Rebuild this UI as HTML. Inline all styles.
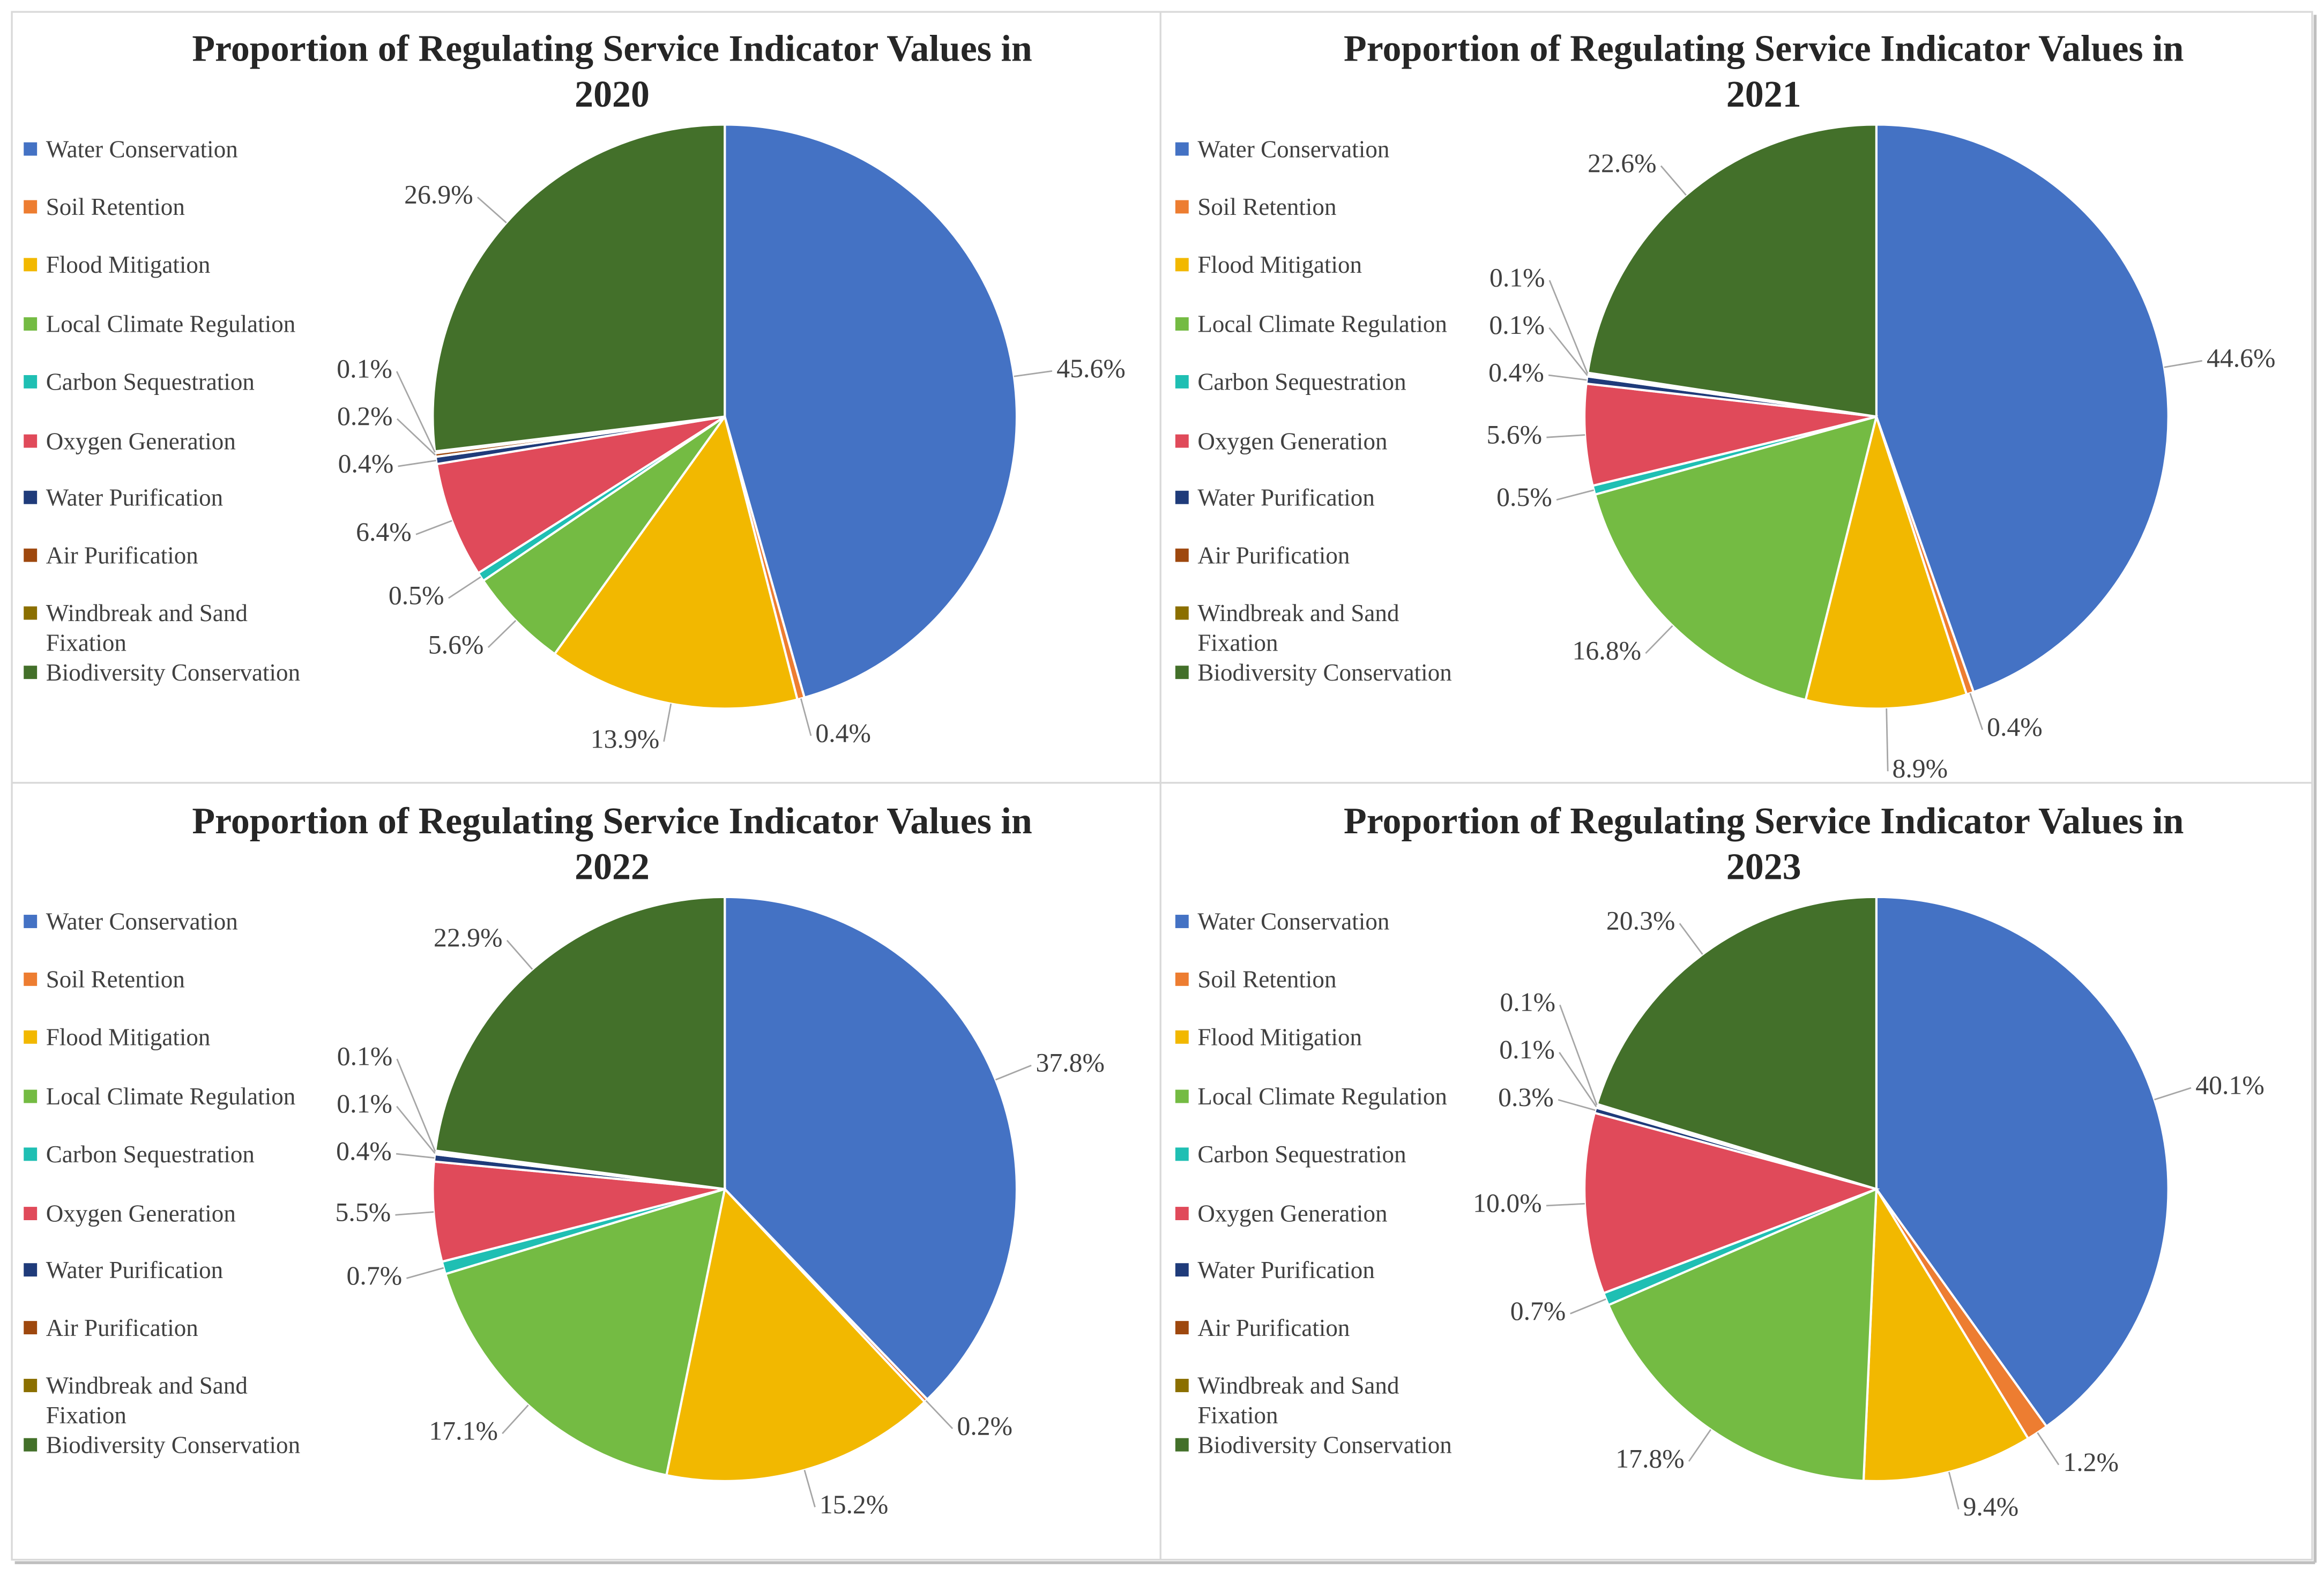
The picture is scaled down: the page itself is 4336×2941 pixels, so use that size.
<!DOCTYPE html>
<html><head><meta charset="utf-8"><style>
html,body{margin:0;padding:0;background:#fff;}
svg{display:block;}
text{font-family:"Liberation Serif",serif;}
</style></head><body>
<svg id="chart" width="4336" height="2941" viewBox="0 0 1568 1063" preserveAspectRatio="none" xmlns="http://www.w3.org/2000/svg">
<rect x="0" y="0" width="1568" height="1063" fill="#fff"/>
<rect x="8" y="8" width="1552" height="1044" fill="none" stroke="#d9d9d9" stroke-width="1.2"/>
<line x1="783" y1="8" x2="783" y2="1052" stroke="#d9d9d9" stroke-width="1.2"/>
<line x1="8" y1="528" x2="1560" y2="528" stroke="#d9d9d9" stroke-width="1.2"/>
<line x1="10" y1="1054" x2="1562" y2="1054" stroke="#bfbfbf" stroke-width="2"/>
<line x1="1562" y1="10" x2="1562" y2="1054" stroke="#bfbfbf" stroke-width="2"/>
</svg>
<script>
const years = ['2020','2021','2022','2023'];
const categories = ['Water Conservation','Soil Retention','Flood Mitigation','Local Climate Regulation','Carbon Sequestration','Oxygen Generation','Water Purification','Air Purification','Windbreak and Sand Fixation','Biodiversity Conservation'];
const values2020 = [45.6,0.4,13.9,5.6,0.5,6.4,0.4,0.2,0.1,26.9];
const values2021 = [44.6,0.4,8.9,16.8,0.5,5.6,0.4,0.1,0.1,22.6];
const values2022 = [37.8,0.2,15.2,17.1,0.7,5.5,0.4,0.1,0.1,22.9];
const values2023 = [40.1,1.2,9.4,17.8,0.7,10.0,0.3,0.1,0.1,20.3];
const seriesByYear = [values2020, values2021, values2022, values2023];

const colors = ['#4472C4','#ED7D31','#F2B800','#74BB43','#1FBFB3','#E04A5A','#1F3B7A','#9E480E','#8B6F00','#43702A'];
const NS = 'http://www.w3.org/2000/svg';
const svg = document.getElementById('chart');
const offsets = [[0,0],[777,0],[0,521],[777,521]];

function mk(tag, attrs, parent){
  const e = document.createElementNS(NS, tag);
  for (const k in attrs) e.setAttribute(k, attrs[k]);
  parent.appendChild(e);
  return e;
}
function pt(cx, cy, r, frac){
  const a = frac * 2 * Math.PI;
  return [cx + r*Math.sin(a), cy - r*Math.cos(a)];
}

years.forEach((yr, p) => {
  const [ox, oy] = offsets[p];
  const vals = seriesByYear[p];
  const g = mk('g', {}, svg);
  
  

  const t1 = mk('text', {x: ox+413, y: oy+41, 'text-anchor':'middle', 'font-size':'25.3', 'font-weight':'bold', fill:'#262626'}, g);
  t1.textContent = 'Proportion of Regulating Service Indicator Values in';
  
  
  const t2 = mk('text', {x: ox+413, y: oy+72, 'text-anchor':'middle', 'font-size':'25.3', 'font-weight':'bold', fill:'#262626'}, g);
  t2.textContent = yr;
  
  

  const legY = [101,140,179,219,258,298,336,375,414,454];
  categories.forEach((c, i) => {
    const lg = mk('g', {}, g);
    
    
    const y = oy + legY[i];
    mk('rect', {x: ox+16, y: y-5, width: 9, height: 9, fill: colors[i]}, lg);
    if (c === 'Windbreak and Sand Fixation') {
      const a = mk('text', {x: ox+31, y: y+5, 'font-size':'16.3', fill:'#404040'}, lg);
      a.textContent = 'Windbreak and Sand';
      const b = mk('text', {x: ox+31, y: y+25, 'font-size':'16.3', fill:'#404040'}, lg);
      b.textContent = 'Fixation';
    } else {
      const a = mk('text', {x: ox+31, y: y+5, 'font-size':'16.3', fill:'#404040'}, lg);
      a.textContent = c;
    }
  });

  const cx = ox+489, cy = oy+281, r = 197;
  const total = vals.reduce((a,b)=>a+b,0);
  let cum = 0;
  const labels = [];
  vals.forEach((v, i) => {
    const f0 = cum/total, f1 = (cum+v)/total;
    const [x0,y0] = pt(cx,cy,r,f0), [x1,y1] = pt(cx,cy,r,f1);
    const large = (f1-f0) > 0.5 ? 1 : 0;
    const path = mk('path', {d:`M${cx},${cy} L${x0},${y0} A${r},${r} 0 ${large} 1 ${x1},${y1} Z`, fill: colors[i], stroke:'#fff', 'stroke-width':'1.5'}, g);
    
    
    const fm = (f0+f1)/2;
    const [ex,ey] = pt(cx,cy,r,fm);
    const [lx,ly] = pt(cx,cy,r+26,fm);
    labels.push({i, v, fm, ex, ey, lx, ly, left: Math.sin(fm*2*Math.PI) < 0});
    cum += v;
  });
  const left = labels.filter(l => l.left).sort((a,b) => a.ly - b.ly);
  for (let k = left.length-2; k >= 0; k--) {
    if (left[k].ly > left[k+1].ly - 32) left[k].ly = left[k+1].ly - 32;
  }
  const right = labels.filter(l => !l.left).sort((a,b) => a.ly - b.ly);
  for (let k = 1; k < right.length; k++) {
    if (right[k].ly < right[k-1].ly + 28) right[k].ly = right[k-1].ly + 28;
  }
  labels.forEach(l => {
    const tx = l.left ? l.lx - 3 : l.lx + 3;
    const ln = mk('line', {x1: l.ex, y1: l.ey, x2: l.lx, y2: l.ly, stroke:'#a6a6a6', 'stroke-width':'1'}, g);
    
    
    const tt = mk('text', {x: tx, y: l.ly, 'text-anchor': l.left ? 'end' : 'start', 'dominant-baseline':'middle', 'font-size':'18', fill:'#404040'}, g);
    tt.textContent = l.v.toFixed(1) + '%';
    
    
  });
});
</script>
</body></html>
